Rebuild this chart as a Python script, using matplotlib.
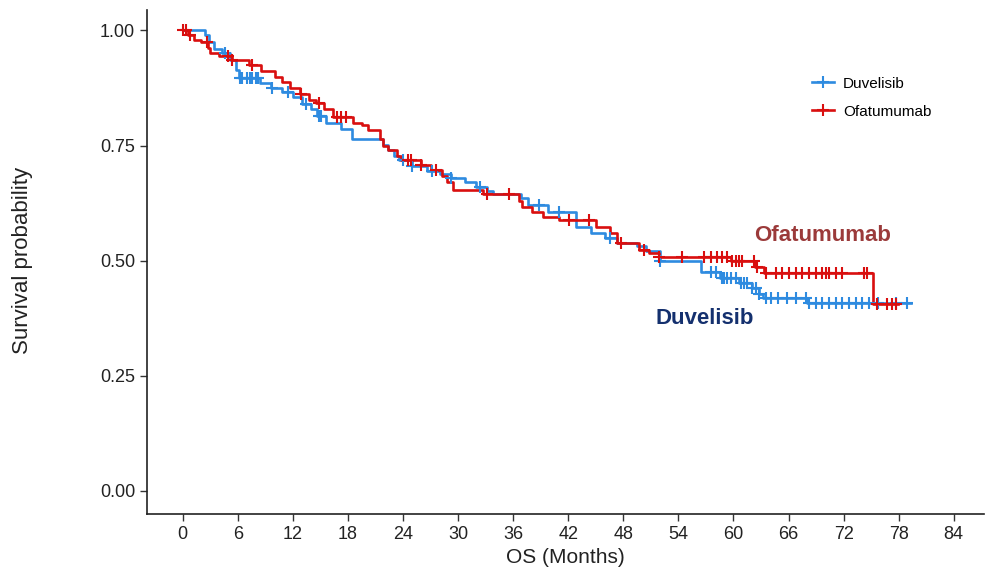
import numpy as np
import matplotlib
matplotlib.use("Agg")
import matplotlib.pyplot as plt
from matplotlib.lines import Line2D

plt.rcParams['font.family'] = ['Liberation Sans', 'DejaVu Sans']

# ---- data ----
duv_times = [0, 2.4, 2.9, 3.4, 4.3, 5.2, 5.8, 6.1, 8.4, 9.6, 10.8, 12.0, 13.0, 14.0, 14.6,
             15.6, 17.2, 18.4, 21.8, 22.4, 23.0, 23.6, 25.0, 26.6, 28.0, 29.2, 30.8, 32.0,
             33.2, 33.8, 36.9, 37.6, 39.8, 42.9, 44.5, 46.0, 47.3, 49.5, 50.5, 52.0, 56.5,
             58.5, 60.6, 62.0, 62.8, 63.2, 68.0]
duv_surv = [1.0, 0.99, 0.975, 0.96, 0.95, 0.935, 0.915, 0.896, 0.885, 0.874, 0.866, 0.855,
            0.84, 0.83, 0.815, 0.80, 0.785, 0.764, 0.752, 0.74, 0.728, 0.718, 0.706, 0.695,
            0.688, 0.68, 0.67, 0.661, 0.652, 0.645, 0.636, 0.62, 0.606, 0.573, 0.56, 0.55,
            0.538, 0.532, 0.52, 0.50, 0.475, 0.462, 0.451, 0.44, 0.428, 0.42, 0.408]
duv_end = 79.3
duv_censor = [4.6, 6.2, 6.5, 7.0, 7.3, 7.6, 8.0, 8.2, 9.7, 11.5, 13.4, 14.9, 15.1, 24.0, 25.0,
              27.2, 29.2, 32.4, 38.8, 41.0, 46.5, 52.0, 57.6, 58.1, 58.7, 59.0, 59.3, 59.7,
              60.3, 60.8, 61.2, 61.5, 62.0, 62.5, 62.8, 63.5, 64.1, 64.9, 65.8, 66.8, 67.9,
              68.2, 69.0, 69.6, 70.4, 71.2, 71.8, 72.6, 73.3, 74.0, 74.8, 75.8, 77.7, 78.9]

ofa_times = [0, 0.6, 1.2, 2.0, 2.8, 3.0, 4.0, 5.4, 7.2, 8.5, 10.0, 10.8, 11.7, 12.8, 13.8,
             14.5, 15.4, 16.4, 18.6, 19.5, 20.2, 21.5, 21.8, 22.4, 23.3, 23.8, 26.0, 27.0,
             28.2, 28.8, 29.5, 32.7, 36.6, 37.0, 38.0, 39.2, 41.0, 45.0, 46.5, 47.3, 49.7,
             50.8, 51.9, 59.7, 62.3, 63.3, 75.2]
ofa_surv = [1.0, 0.99, 0.98, 0.974, 0.962, 0.952, 0.945, 0.935, 0.924, 0.913, 0.90, 0.888,
            0.876, 0.862, 0.85, 0.843, 0.83, 0.812, 0.80, 0.794, 0.783, 0.765, 0.75, 0.74,
            0.728, 0.718, 0.708, 0.698, 0.685, 0.672, 0.653, 0.644, 0.63, 0.616, 0.605,
            0.594, 0.588, 0.573, 0.56, 0.538, 0.523, 0.516, 0.508, 0.50, 0.487, 0.473, 0.405]
ofa_end = 77.9
ofa_censor = [0.0, 0.4, 0.8, 2.6, 4.9, 5.4, 7.6, 12.9, 14.9, 16.8, 17.2, 17.8, 24.5, 24.9,
              26.0, 27.6, 33.1, 35.6, 42.1, 44.3, 47.8, 50.3, 51.9, 54.4, 56.8, 57.6, 58.2,
              58.8, 59.3, 59.8, 60.3, 60.6, 60.9, 62.2, 62.6, 63.5, 64.6, 65.3, 66.0, 66.8,
              67.5, 68.2, 69.0, 69.6, 70.1, 70.4, 71.2, 71.8, 74.2, 74.5, 75.6, 76.7, 77.3, 77.7]

groups = ['Duvelisib', 'Ofatumumab']
colors = ['#2E8BE0', '#D90F0F']
x_ticks = list(range(0, 85, 6))
y_ticks = [0.0, 0.25, 0.5, 0.75, 1.0]
y_ticklabels = ['0.00', '0.25', '0.50', '0.75', '1.00']

fig = plt.figure(figsize=(9.86, 5.73), dpi=100)
ax = fig.add_axes([0.149, 0.103, 0.849, 0.88])


def draw(times, surv, end, censor, color):
    t = np.array(list(times) + [end])
    s = np.array(list(surv) + [surv[-1]])
    ax.step(t, s, where='post', color=color, lw=1.9, zorder=3)
    c = np.array(censor)
    idx = np.searchsorted(np.array(times), c, side='right') - 1
    cy = np.array(surv)[idx]
    ax.plot(c, cy, linestyle='none', marker='+', ms=9, mew=1.5, color=color, zorder=4)


draw(duv_times, duv_surv, duv_end, duv_censor, colors[0])
draw(ofa_times, ofa_surv, ofa_end, ofa_censor, colors[1])

ax.set_xlim(-3.9, 87.3)
ax.set_ylim(-0.05, 1.045)
ax.set_xticks(x_ticks)
ax.set_xticklabels([str(v) for v in x_ticks])
ax.set_yticks(y_ticks)
ax.set_yticklabels(y_ticklabels)
ax.tick_params(labelsize=13, length=5, width=1, color='#333333', labelcolor='#222222')
for sp in ['top', 'right']:
    ax.spines[sp].set_visible(False)
for sp in ['left', 'bottom']:
    ax.spines[sp].set_linewidth(1.2)
    ax.spines[sp].set_color('#222222')

ax.set_xlabel('OS (Months)', fontsize=15, color='#222222', labelpad=4)
fig.text(0.023, 0.546, 'Survival probability', rotation=90, fontsize=16,
         ha='center', va='center', color='#222222')

ax.text(62.2, 0.555, 'Ofatumumab', fontsize=16, fontweight='bold', color='#9B3A3A',
        ha='left', va='center')
ax.text(51.5, 0.375, 'Duvelisib', fontsize=16, fontweight='bold', color='#14306E',
        ha='left', va='center')

handles = [Line2D([0], [0], color=c, lw=1.9, marker='+', ms=9, mew=1.5) for c in colors]
leg = fig.legend(handles, groups, loc='upper left', bbox_to_anchor=(0.810, 0.89),
                 frameon=False, fontsize=11, handlelength=1.4, handletextpad=0.6,
                 labelspacing=0.9)

fig.savefig('out.png', dpi=100)
